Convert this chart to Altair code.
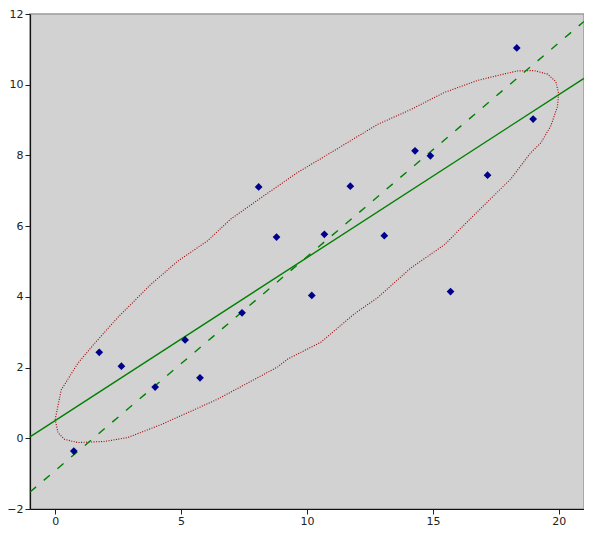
import altair as alt
import pandas as pd

# scatter points
pt_x = [0.74, 1.75, 2.63, 3.97, 5.16, 5.75, 7.42, 8.08, 8.79, 10.19,
        10.69, 11.72, 13.07, 14.29, 14.90, 15.70, 17.17, 18.33, 18.98]
pt_y = [-0.36, 2.43, 2.04, 1.45, 2.78, 1.71, 3.55, 7.11, 5.69, 4.04,
        5.77, 7.13, 5.73, 8.13, 7.99, 4.15, 7.44, 11.04, 9.03]

# straight lines (endpoints)
line_x = [-1, 21]
fit_y = [0.04, 10.18]
axis_y = [-1.52, 11.79]

# ellipse outline
ell_x = [0.00, 0.24, 0.90, 1.56, 2.49, 3.81, 4.87, 6.06, 6.97, 8.31, 9.63, 10.95,
         12.81, 14.13, 15.45, 16.77, 17.57, 18.36, 19.02, 19.55, 19.88, 19.99,
         19.95, 19.68, 19.29, 18.89, 18.10, 16.77, 15.45, 14.13, 12.81, 11.88,
         10.56, 9.23, 8.84, 6.46, 5.53, 4.21, 2.88, 1.96, 0.90, 0.37, 0.11, 0.00]
ell_y = [0.53, 1.37, 2.12, 2.68, 3.42, 4.36, 5.01, 5.59, 6.20, 6.87, 7.52, 8.08,
         8.88, 9.30, 9.78, 10.12, 10.26, 10.39, 10.40, 10.30, 10.09, 9.76,
         9.39, 8.83, 8.36, 8.08, 7.34, 6.41, 5.47, 4.82, 3.98, 3.52,
         2.72, 2.24, 2.02, 1.11, 0.81, 0.39, 0.02, -0.09, -0.12, -0.03, 0.16, 0.53]

x_ticks = [0, 5, 10, 15, 20]
y_ticks = [-2, 0, 2, 4, 6, 8, 10, 12]

pts = pd.DataFrame({"x": pt_x, "y": pt_y})
fit = pd.DataFrame({"x": line_x, "y": fit_y})
pax = pd.DataFrame({"x": line_x, "y": axis_y})
ell = pd.DataFrame({"x": ell_x, "y": ell_y, "i": list(range(len(ell_x)))})

xs = alt.Scale(domain=[-1, 21], nice=False, zero=False)
ys = alt.Scale(domain=[-2, 12], nice=False, zero=False)
xa = alt.Axis(values=x_ticks, title="", labelPadding=1)
ya = alt.Axis(values=y_ticks, title="", labelPadding=2)


def X():
    return alt.X("x:Q", scale=xs, axis=xa)


def Y():
    return alt.Y("y:Q", scale=ys, axis=ya)


ellipse = alt.Chart(ell).mark_line(
    color="#a00000", strokeWidth=1.1, strokeDash=[1, 1.5]
).encode(x=X(), y=Y(), order="i:Q")

fit_line = alt.Chart(fit).mark_line(color="#008000", strokeWidth=1.4).encode(x=X(), y=Y())
axis_line = alt.Chart(pax).mark_line(
    color="#008000", strokeWidth=1.4, strokeDash=[8, 10]
).encode(x=X(), y=Y())

points = alt.Chart(pts).mark_point(
    shape="diamond", filled=True, color="#00008b", size=60, opacity=1
).encode(x=X(), y=Y())

chart = alt.layer(ellipse, fit_line, axis_line, points).properties(
    width=554,
    height=495,
    padding={"left": 22, "top": 6, "right": 0, "bottom": 17},
    autosize=alt.AutoSizeParams(type="none"),
    background="white",
).configure_view(
    fill="#d2d2d2", stroke="#9a9a9a", strokeWidth=1.5
).configure_axis(
    grid=False,
    domainColor="#111111",
    domainWidth=1.2,
    tickColor="#222222",
    tickSize=5,
    labelColor="#222222",
    labelFont="DejaVu Sans",
    labelFontSize=11,
)

chart.save("out.html", embed_options={"renderer": "svg", "actions": False})
